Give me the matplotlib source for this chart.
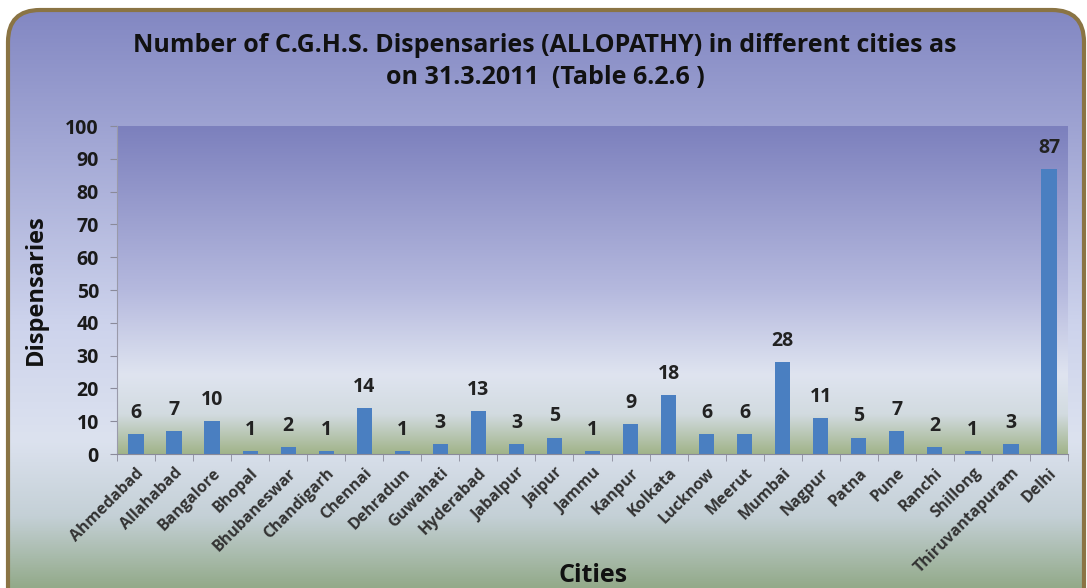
import numpy as np
import matplotlib
matplotlib.use("Agg")
import matplotlib.pyplot as plt
from matplotlib.colors import LinearSegmentedColormap
from matplotlib.patches import FancyBboxPatch

cities = ["Ahmedabad", "Allahabad", "Bangalore", "Bhopal", "Bhubaneswar", "Chandigarh",
          "Chennai", "Dehradun", "Guwahati", "Hyderabad", "Jabalpur", "Jaipur", "Jammu",
          "Kanpur", "Kolkata", "Lucknow", "Meerut", "Mumbai", "Nagpur", "Patna", "Pune",
          "Ranchi", "Shillong", "Thiruvantapuram", "Delhi"]
dispensaries = [6, 7, 10, 1, 2, 1, 14, 1, 3, 13, 3, 5, 1, 9, 18, 6, 6, 28, 11, 5, 7, 2, 1, 3, 87]
yticks = [0, 10, 20, 30, 40, 50, 60, 70, 80, 90, 100]

plt.rcParams['font.family'] = ['Open Sans', 'DejaVu Sans']

W, H = 1087, 588
fig = plt.figure(figsize=(W / 100, H / 100), dpi=100)
fig.patch.set_facecolor("white")

# background rounded panel with gradient
bg = fig.add_axes([0, 0, 1, 1], zorder=0)
bg.set_xlim(0, W)
bg.set_ylim(0, H)
bg.axis("off")
cmap_bg = LinearSegmentedColormap.from_list("bg", [
    (0.0, "#93aa8a"), (0.12, "#c4d0d6"), (0.25, "#dce2ef"), (0.45, "#cdd3ec"),
    (0.75, "#a3a8d5"), (1.0, "#8085c1")])
grad = np.linspace(0, 1, 256).reshape(-1, 1)
im = bg.imshow(grad, extent=[0, W, 0, H], origin="lower", aspect="auto", cmap=cmap_bg, zorder=1)
panel = FancyBboxPatch((8, -40), 1076, 618, boxstyle="round,pad=0,rounding_size=32",
                       facecolor="none", edgecolor="#8a7444", linewidth=3, zorder=3)
bg.add_patch(panel)
clip = FancyBboxPatch((8, -40), 1076, 618, boxstyle="round,pad=0,rounding_size=32",
                      facecolor="none", edgecolor="none", transform=bg.transData)
bg.add_patch(clip)
im.set_clip_path(clip)

# plot axes
ax = fig.add_axes([117 / W, 1 - 454 / H, (1068 - 117) / W, (454 - 126) / H], zorder=2)
ax.patch.set_alpha(0)
cmap_ax = LinearSegmentedColormap.from_list("ax", [
    (0.0, "#a1b48a"), (0.12, "#d2dbe0"), (0.24, "#dfe4f0"), (0.5, "#b5b9de"),
    (1.0, "#7c80bd")])
x = np.arange(len(cities))
ax.set_xlim(-0.5, len(cities) - 0.5)
ax.set_ylim(0, 100)
ax.imshow(grad, extent=[-0.5, len(cities) - 0.5, 0, 100], origin="lower", aspect="auto",
          cmap=cmap_ax, zorder=0)

bars = ax.bar(x, dispensaries, width=0.4, color="#4a7fc1", zorder=2)
for xi, v in zip(x, dispensaries):
    ax.annotate(str(v), (xi, v), xytext=(0, 8), textcoords="offset points",
                ha="center", va="bottom", fontsize=14, fontweight="bold", color="#222222")

ax.set_yticks(yticks)
ax.set_yticklabels([str(t) for t in yticks], fontsize=14, fontweight="bold", color="#1a1a1a")
ax.set_xticks(x)
ax.set_xticklabels(cities, rotation=45, ha="right", rotation_mode="anchor",
                   fontsize=11.5, fontweight="bold", color="#333333")
ax.set_xticks(np.arange(-0.5, len(cities), 1), minor=True)
ax.tick_params(axis="x", which="major", length=0, pad=8)
ax.tick_params(axis="x", which="minor", length=5, color="#8a8a9a", direction="out")
ax.tick_params(axis="y", length=5, color="#8a8a9a", direction="out", pad=8)
for s in ["top", "right"]:
    ax.spines[s].set_visible(False)
ax.spines["left"].set_color("#9a9aaa")
ax.spines["bottom"].set_color("#8a8a9a")

fig.text(545 / W, 1 - 46 / H, "Number of C.G.H.S. Dispensaries (ALLOPATHY) in different cities as",
         ha="center", va="center", fontsize=18, fontweight="bold", color="#111111")
fig.text(545 / W, 1 - 77 / H, "on 31.3.2011  (Table 6.2.6 )",
         ha="center", va="center", fontsize=18, fontweight="bold", color="#111111")
fig.text(36 / W, 1 - 290 / H, "Dispensaries", rotation=90, ha="center", va="center",
         fontsize=17, fontweight="bold", color="#111111")
fig.text(593 / W, 1 - 575 / H, "Cities", ha="center", va="center",
         fontsize=18, fontweight="bold", color="#111111")

fig.savefig("out.png", dpi=100)
